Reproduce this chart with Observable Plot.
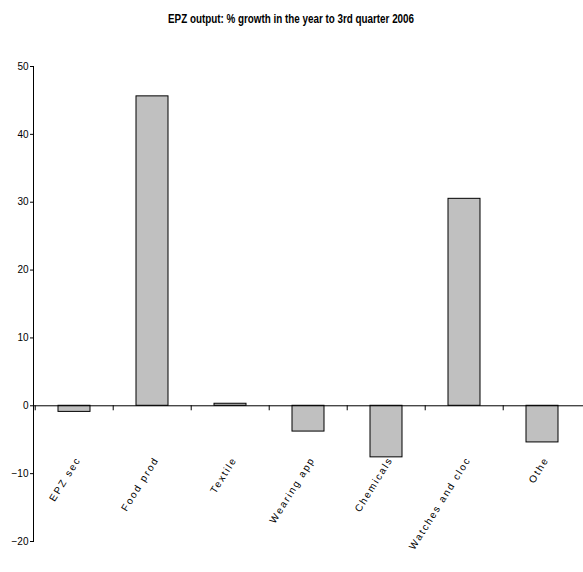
<!DOCTYPE html>
<html><head><meta charset="utf-8">
<script src="https://cdn.jsdelivr.net/npm/d3@7"></script>
<script src="https://cdn.jsdelivr.net/npm/@observablehq/plot@0.6"></script>
<style>
body{margin:0;background:#fff;}
#title{height:40px;box-sizing:border-box;padding-top:9px;text-align:center;color:#000;}
#title span{display:inline-block;font:bold 12px "Liberation Sans Narrow","Arial Narrow","Liberation Sans",sans-serif;transform:scaleX(0.82);transform-origin:center;}
.epz-chart .catlabel text{letter-spacing:1.8px;}
</style></head><body>
<div id="title"><span>EPZ output: % growth in the year to 3rd quarter 2006</span></div>
<div id="chart"></div>
<script>
const categories = ["EPZ sector","Food products","Textiles","Wearing apparel","Chemicals","Watches and clocks","Other"];
const tickLabels = ["EPZ sec","Food prod","Textile","Wearing app","Chemicals","Watches and cloc","Othe"];
const growth = [-0.9, 45.6, 0.3, -3.8, -7.6, 30.5, -5.4];
const yTicks = [-20, -10, 0, 10, 20, 30, 40, 50];

const data = categories.map((c, i) => ({category: c, value: growth[i]}));
const labelOf = new Map(categories.map((c, i) => [c, tickLabels[i]]));
const W = 583, H = 532, ML = 33, MR = 0;
const step = (W - ML - MR) / categories.length;
const font = '"Liberation Sans Narrow","Arial Narrow","Liberation Sans",sans-serif';

const chart = Plot.plot({
  width: W, height: H,
  marginLeft: ML, marginRight: MR, marginTop: 26, marginBottom: 31,
  className: "epz-chart",
  style: {fontFamily: font, fontSize: "10px", color: "#000", background: "#fff", overflow: "visible"},
  x: {domain: categories, paddingInner: 0.59, paddingOuter: 0.295, axis: null},
  y: {domain: [-20, 50], axis: null},
  marks: [
    Plot.frame({anchor: "left", stroke: "#000"}),
    Plot.axisY({ticks: yTicks, tickSize: 3, tickPadding: 2, fontSize: 10, stroke: "#000", label: null}),
    Plot.barY(data, {x: "category", y: "value", fill: "#c0c0c0", stroke: "#000", strokeWidth: 1}),
    Plot.ruleY([0], {stroke: "#000"}),
    Plot.ruleX(categories, {x: d => d, y1: () => 0, y2: () => 0, insetBottom: -5, dx: -step / 2, stroke: "#000"}),
    Plot.text(categories, {
      x: d => d, y: () => 0, text: d => labelOf.get(d),
      rotate: -58, textAnchor: "end", dx: 4, dy: 52,
      fontSize: 10, fill: "#000", className: "catlabel"
    })
  ]
});
document.getElementById("chart").appendChild(chart);
</script>
</body></html>
